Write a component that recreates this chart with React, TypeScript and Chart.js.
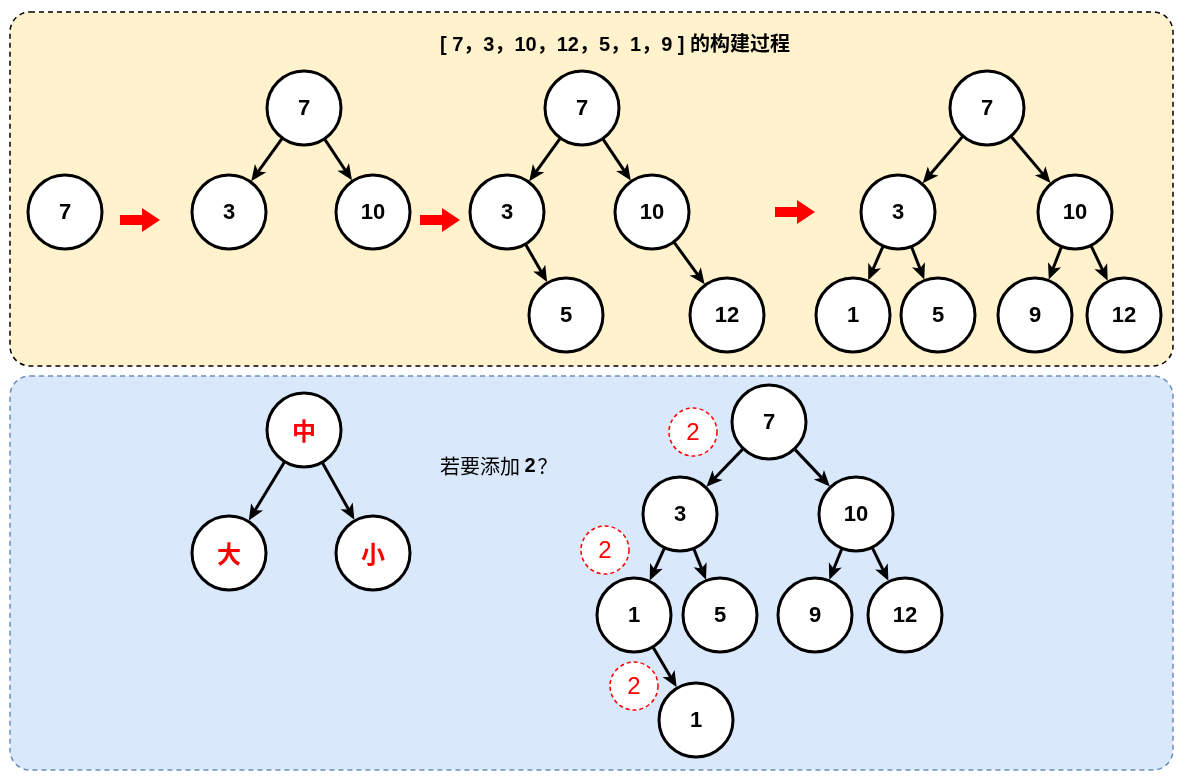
import { useEffect, useRef } from 'react';
import { Chart, registerables } from 'chart.js';

Chart.register(...registerables);

// node positions in diagram units (x 0..1180, y 0..780 downwards)
const nodeLabels = ['7', '7', '3', '10', '7', '3', '10', '5', '12', '7', '3', '10', '1', '5', '9', '12',
  '中', '大', '小', '7', '3', '10', '1', '5', '9', '12', '1'];
const nodeX = [65, 304, 229, 373, 582, 507, 652, 566, 727, 987, 898, 1075, 853, 938, 1035, 1124,
  304, 229, 373, 769, 680, 856, 634, 720, 815, 905, 696];
const nodeY = [212, 108, 212, 212, 108, 212, 212, 315, 315, 108, 212, 212, 315, 315, 315, 315,
  430, 553, 553, 422, 514, 514, 615, 615, 615, 615, 720];
const redNodes = [16, 17, 18];
const edges = [[1, 2], [1, 3], [4, 5], [4, 6], [5, 7], [6, 8], [9, 10], [9, 11], [10, 12], [10, 13], [11, 14], [11, 15],
  [16, 17], [16, 18], [19, 20], [19, 21], [20, 22], [20, 23], [21, 24], [21, 25], [22, 26]];
const stepArrowX = [140, 440, 795];
const stepArrowY = [220, 220, 212];
const hintX = [693, 605, 634];
const hintY = [432, 550, 686];
const R = 37;

const diagramPlugin = {
  id: 'diagram',
  beforeDatasetsDraw(chart: any) {
    const { ctx, scales } = chart;
    const px = (v: number) => scales.x.getPixelForValue(v);
    const py = (v: number) => scales.y.getPixelForValue(v);
    ctx.save();
    const panel = (x1: number, y1: number, x2: number, y2: number, fill: string, stroke: string) => {
      ctx.beginPath();
      ctx.roundRect(px(x1), py(y1), px(x2) - px(x1), py(y2) - py(y1), 20);
      ctx.fillStyle = fill;
      ctx.fill();
      ctx.setLineDash([5, 4]);
      ctx.lineWidth = 1.5;
      ctx.strokeStyle = stroke;
      ctx.stroke();
      ctx.setLineDash([]);
    };
    panel(10, 12, 1173, 366, '#fff2cc', '#000');
    panel(10, 376, 1173, 770, '#dae8fc', '#6c8ebf');

    ctx.fillStyle = '#000';
    ctx.font = 'bold 20px "Liberation Sans", "Noto Sans CJK SC"';
    ctx.textAlign = 'center';
    ctx.textBaseline = 'middle';
    ctx.fillText('[ 7，3，10，12，5，1，9 ] 的构建过程', px(615), py(45));

    // edges
    edges.forEach(([a, b]) => {
      const x1 = px(nodeX[a]), y1 = py(nodeY[a]), x2 = px(nodeX[b]), y2 = py(nodeY[b]);
      const d = Math.hypot(x2 - x1, y2 - y1);
      const ux = (x2 - x1) / d, uy = (y2 - y1) / d;
      const sx = x1 + ux * R, sy = y1 + uy * R;
      const ex = x2 - ux * (R + 1), ey = y2 - uy * (R + 1);
      ctx.strokeStyle = '#000';
      ctx.lineWidth = 3;
      ctx.beginPath();
      ctx.moveTo(sx, sy);
      ctx.lineTo(ex - ux * 10, ey - uy * 10);
      ctx.stroke();
      ctx.beginPath();
      ctx.moveTo(ex, ey);
      ctx.lineTo(ex - ux * 16 - uy * 7, ey - uy * 16 + ux * 7);
      ctx.lineTo(ex - ux * 12, ey - uy * 12);
      ctx.lineTo(ex - ux * 16 + uy * 7, ey - uy * 16 - ux * 7);
      ctx.closePath();
      ctx.fillStyle = '#000';
      ctx.fill();
    });

    // red step arrows
    stepArrowX.forEach((x, i) => {
      const cx = px(x), cy = py(stepArrowY[i]);
      ctx.beginPath();
      ctx.moveTo(cx - 20, cy - 5);
      ctx.lineTo(cx + 2, cy - 5);
      ctx.lineTo(cx + 2, cy - 12);
      ctx.lineTo(cx + 20, cy);
      ctx.lineTo(cx + 2, cy + 12);
      ctx.lineTo(cx + 2, cy + 5);
      ctx.lineTo(cx - 20, cy + 5);
      ctx.closePath();
      ctx.fillStyle = '#ff0000';
      ctx.fill();
    });

    ctx.fillStyle = '#000';
    ctx.textAlign = 'left';
    ctx.font = '20px "Noto Sans CJK SC"';
    ctx.fillText('若要添加', px(440), py(466));
    const w = ctx.measureText('若要添加 ').width;
    ctx.font = 'bold 20px "Liberation Sans"';
    ctx.fillText('2', px(440) + w, py(466));
    const w2 = ctx.measureText('2').width;
    ctx.font = '20px "Noto Sans CJK SC"';
    ctx.fillText('？', px(440) + w + w2 + 2, py(466));

    // hint circles
    hintX.forEach((x, i) => {
      ctx.beginPath();
      ctx.arc(px(x), py(hintY[i]), 24, 0, Math.PI * 2);
      ctx.fillStyle = '#fff';
      ctx.fill();
      ctx.setLineDash([4, 3]);
      ctx.strokeStyle = '#ff0000';
      ctx.lineWidth = 1.5;
      ctx.stroke();
      ctx.setLineDash([]);
      ctx.fillStyle = '#ff0000';
      ctx.textAlign = 'center';
      ctx.font = '24px "Liberation Sans"';
      ctx.fillText('2', px(x), py(hintY[i]) + 1);
    });
    ctx.restore();
  },
  afterDatasetsDraw(chart: any) {
    const { ctx, scales } = chart;
    ctx.save();
    ctx.textAlign = 'center';
    ctx.textBaseline = 'middle';
    nodeLabels.forEach((t, i) => {
      const red = redNodes.includes(i);
      ctx.fillStyle = red ? '#ff0000' : '#000';
      ctx.font = red ? 'bold 24px "Noto Sans CJK SC"' : 'bold 22px "Liberation Sans"';
      ctx.fillText(t, scales.x.getPixelForValue(nodeX[i]), scales.y.getPixelForValue(nodeY[i]) + 1);
    });
    ctx.restore();
  },
};

export default function App() {
  const chartRef = useRef<HTMLCanvasElement>(null);

  useEffect(() => {
    document.body.style.margin = '0';
    if (!chartRef.current) return;
    const chart = new Chart(chartRef.current, {
      type: 'scatter',
      data: {
        datasets: [{
          data: nodeX.map((x, i) => ({ x, y: nodeY[i] })),
          pointRadius: R,
          pointHoverRadius: R,
          pointBackgroundColor: '#fff',
          pointBorderColor: '#000',
          pointBorderWidth: 3,
          clip: false,
        }],
      },
      options: {
        animation: false,
        responsive: false,
        layout: { padding: 0, autoPadding: false },
        plugins: { legend: { display: false }, tooltip: { enabled: false } },
        scales: {
          x: { type: 'linear', min: 0, max: 1180, display: false },
          y: { type: 'linear', min: 0, max: 780, reverse: true, display: false },
        },
      },
      plugins: [diagramPlugin],
    });
    return () => chart.destroy();
  }, []);

  return <canvas ref={chartRef} width={1180} height={780} style={{ display: 'block' }} />;
}
